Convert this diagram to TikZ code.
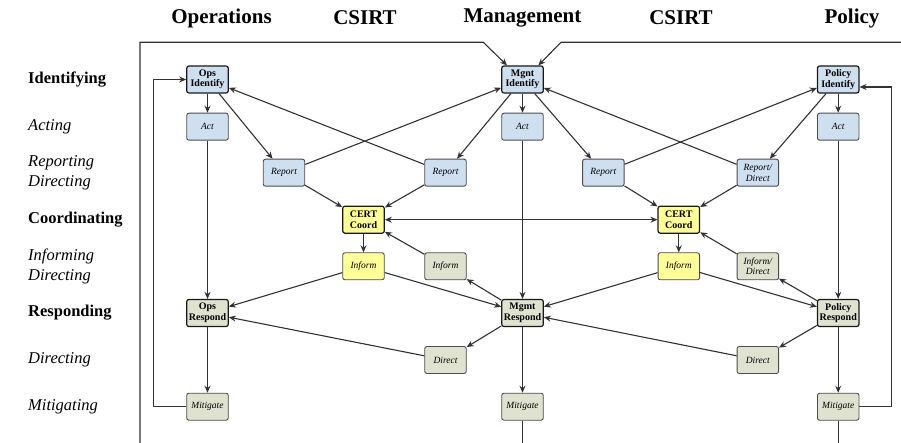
\documentclass[tikz,border=0pt]{standalone}
\usepackage{fontspec}
\setmainfont{Liberation Serif}
\usetikzlibrary{arrows.meta}
\definecolor{idblue}{RGB}{206,223,240}
\definecolor{coordyel}{RGB}{255,255,153}
\definecolor{respgrn}{RGB}{223,226,206}
\definecolor{ink}{RGB}{50,50,50}
\begin{document}
\begin{tikzpicture}[x=1pt,y=-1pt,
  box/.style={rounded corners=2.2pt, minimum width=41.5pt, minimum height=27pt,
    inner sep=0pt, align=center, text=black},
  keybox/.style={box, draw=black!90, line width=1.2pt,
    font=\fontsize{10}{10.5}\selectfont\bfseries},
  taskbox/.style={box, draw=black!70, line width=0.9pt,
    font=\fontsize{9.5}{10.5}\selectfont\itshape},
  fblue/.style={fill=idblue},
  fyel/.style={fill=coordyel},
  fgrn/.style={fill=respgrn},
  tip/.tip={Stealth[length=7pt,width=6pt]},
  flow/.style={draw=ink, line width=1.1pt, -tip},
  twoway/.style={draw=ink, line width=1.1pt, tip-tip},
  wire/.style={draw=ink, line width=1.1pt},
  colhead/.style={font=\fontsize{21}{24}\selectfont\bfseries},
  phase/.style={anchor=west, inner sep=0pt, font=\fontsize{16.5}{18}\selectfont\bfseries},
  subphase/.style={anchor=west, inner sep=0pt, align=left,
    font=\fontsize{16.5}{20}\selectfont\itshape}]

\useasboundingbox (0,0) rectangle (901,443);

% column headings
\node[colhead] (hops)  at (221.5,18) {Operations};
\node[colhead] (hcs1)  at (365,18)   {CSIRT};
\node[colhead] (hmgt)  at (522.5,18) {Management};
\node[colhead] (hcs2)  at (681,18)   {CSIRT};
\node[colhead] (hpol)  at (852,18)   {Policy};

% row labels
\node[phase]    (lid)  at (28,79.5)  {Identifying};
\node[subphase] (lact) at (28,126.7) {Acting};
\node[subphase] (lrep) at (28,172.7) {Reporting\\Directing};
\node[phase]    (lco)  at (28,219.7) {Coordinating};
\node[subphase] (linf) at (28,266.3) {Informing\\Directing};
\node[phase]    (lrs)  at (28,313)   {Responding};
\node[subphase] (ldir) at (28,360)   {Directing};
\node[subphase] (lmit) at (28,406.7) {Mitigating};

% operations column
\node[keybox,fblue]  (oid)  at (207.5,79.5)  {Ops\\Identify};
\node[taskbox,fblue] (oact) at (207.5,126.7) {Act};
\node[keybox,fgrn]   (orsp) at (207.5,313)   {Ops\\Respond};
\node[taskbox,fgrn]  (omit) at (207.5,406.7) {Mitigate};

% first CSIRT column
\node[taskbox,fblue] (rep1) at (284,172.7)   {Report};
\node[taskbox,fblue] (rep2) at (445.5,172.7) {Report};
\node[keybox,fyel]   (cc1)  at (363.5,219.7) {CERT\\Coord};
\node[taskbox,fyel]  (inf1) at (363.5,266.3) {Inform};
\node[taskbox,fgrn]  (inf2) at (445.5,266.3) {Inform};
\node[taskbox,fgrn]  (dir1) at (445.5,360)   {Direct};

% management column
\node[keybox,fblue]  (mid)  at (522.5,79.5)  {Mgnt\\Identify};
\node[taskbox,fblue] (mact) at (522.5,126.7) {Act};
\node[keybox,fgrn]   (mrsp) at (522.5,313)   {Mgmt\\Respond};
\node[taskbox,fgrn]  (mmit) at (522.5,406.7) {Mitigate};

% second CSIRT column
\node[taskbox,fblue] (rep3) at (603.3,172.7) {Report};
\node[taskbox,fblue] (rep4) at (757.8,172.7) {Report/\\Direct};
\node[keybox,fyel]   (cc2)  at (678.8,219.7) {CERT\\Coord};
\node[taskbox,fyel]  (inf3) at (678.8,266.3) {Inform};
\node[taskbox,fgrn]  (inf4) at (757.8,266.3) {Inform/\\Direct};
\node[taskbox,fgrn]  (dir2) at (757.8,360)   {Direct};

% policy column
\node[keybox,fblue]  (pid)  at (838.2,79.5)  {Policy\\Identify};
\node[taskbox,fblue] (pact) at (838.2,126.7) {Act};
\node[keybox,fgrn]   (prsp) at (838.2,313)   {Policy\\Respond};
\node[taskbox,fgrn]  (pmit) at (838.2,406.7) {Mitigate};

% frame corners
\coordinate (fbl) at (140,443);
\coordinate (ftl) at (140,42.3);
\coordinate (ftm1) at (483.3,42.3);
\coordinate (ftm2) at (561,42.3);
\coordinate (ftr) at (901,42.3);

% outer frame feeding management
\draw[flow] (fbl) -- (ftl) -- (ftm1) -- ([xshift=-15.5pt]mid.north);
\draw[flow] (ftr) -- (ftm2) -- ([xshift=15.8pt]mid.north);

% feedback loops
\draw[flow] (omit.west) -- ++(-33,0) |- (oid.west);
\draw[flow] (pmit.east) -- ++(32.5,0) |- ([yshift=-7.5pt]pid.east);
\draw[wire] (mmit.south) -- (mmit.south |- fbl);
\draw[wire] (pmit.south) -- (pmit.south |- fbl);

% vertical flows
\draw[flow] (oid) -- (oact);
\draw[flow] (mid) -- (mact);
\draw[flow] (pid) -- (pact);
\draw[flow] (oact) -- (orsp);
\draw[flow] (mact) -- (mrsp);
\draw[flow] (pact) -- (prsp);
\draw[flow] (orsp) -- (omit);
\draw[flow] (mrsp) -- (mmit);
\draw[flow] (prsp) -- (pmit);
\draw[flow] (cc1) -- (inf1);
\draw[flow] (cc2) -- (inf3);

% identifying / reporting
\draw[flow] (oid) -- (rep1);
\draw[flow] (rep2) -- (oid);
\draw[flow] (rep1) -- (mid);
\draw[flow] (mid) -- (rep2);
\draw[flow] (mid) -- (rep3);
\draw[flow] (rep4) -- (mid);
\draw[flow] (rep3) -- (pid);
\draw[flow] (pid) -- (rep4);

% reports to coordination
\draw[flow] (rep1) -- (cc1);
\draw[flow] (rep2) -- (cc1);
\draw[flow] (rep3) -- (cc2);
\draw[flow] (rep4) -- (cc2);
\draw[twoway] (cc1) -- (cc2);

% informing
\draw[flow] (inf2) -- (cc1);
\draw[flow] (mrsp) -- (inf2);
\draw[flow] (inf4) -- (cc2);
\draw[flow] (prsp) -- (inf4);
\draw[flow] (inf1) -- (orsp);
\draw[flow] (inf1) -- (mrsp);
\draw[flow] (inf3) -- (mrsp);
\draw[flow] (inf3) -- (prsp);

% directing
\draw[flow] (dir1) -- (orsp);
\draw[flow] (mrsp) -- (dir1);
\draw[flow] (dir2) -- (mrsp);
\draw[flow] (prsp) -- (dir2);

\end{tikzpicture}
\end{document}
